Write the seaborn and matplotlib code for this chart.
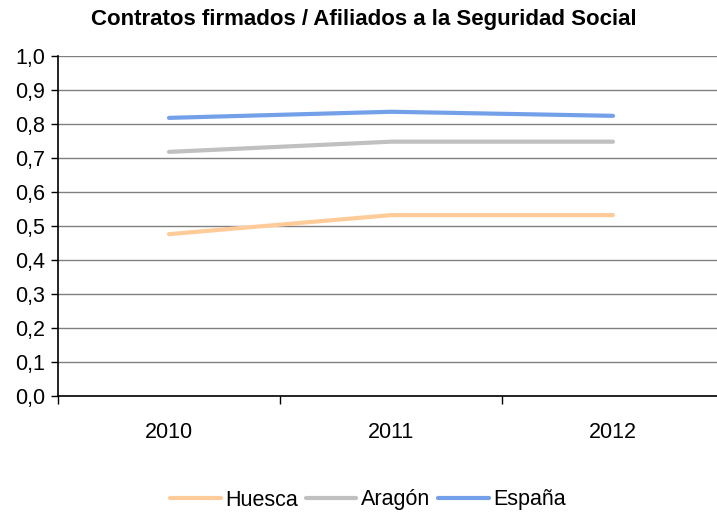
import pandas as pd
import matplotlib.pyplot as plt
import seaborn as sns
from matplotlib.ticker import FixedLocator, FuncFormatter

years = ['2010', '2011', '2012']
huesca = [0.476, 0.532, 0.532]
aragon = [0.718, 0.748, 0.748]
espana = [0.818, 0.836, 0.824]
series = ['Huesca', 'Aragón', 'España']
colors = ['#FFCC99', '#C0C0C0', '#73A0E8']

df = pd.DataFrame({
    'year': years * 3,
    'x': [0, 1, 2] * 3,
    'valor': huesca + aragon + espana,
    'serie': [s for s in series for _ in years],
})

sns.set_style('white')
plt.rcParams['font.family'] = ['Liberation Sans', 'DejaVu Sans']
plt.rcParams['text.color'] = 'black'
plt.rcParams['xtick.color'] = 'black'
plt.rcParams['ytick.color'] = 'black'

fig = plt.figure(figsize=(7.17, 5.12), dpi=100)
ax = fig.add_axes([58 / 717, 116 / 512, 666 / 717, 340 / 512])

sns.lineplot(data=df, x='x', y='valor', hue='serie', palette=colors,
             linewidth=3, ax=ax, legend=True)

ax.set_xlim(-0.5, 2.5)
ax.set_ylim(0, 1.0)
ax.set_yticks([i / 10 for i in range(11)])
ax.yaxis.set_major_formatter(FuncFormatter(lambda v, p: f'{v:.1f}'.replace('.', ',')))
ax.yaxis.grid(True, color='#808080', linewidth=1)
ax.set_axisbelow(True)

# ticks between categories, labels centred on categories
ax.xaxis.set_major_locator(FixedLocator([-0.5, 0.5, 1.5, 2.5]))
ax.xaxis.set_major_formatter(FuncFormatter(lambda v, p: ''))
ax.set_xticks([0, 1, 2], minor=True)
ax.set_xticklabels(years, minor=True)
ax.tick_params(axis='x', which='minor', length=0, pad=19, labelsize=15.5, labelcolor='black')
ax.tick_params(axis='x', which='major', length=6, direction='out', width=1, color='black')
ax.tick_params(axis='y', length=5, direction='out', width=1, color='black', labelsize=15.5,
               labelcolor='black', pad=4)
ax.tick_params(bottom=True, left=True)
ax.set_xlabel('')
ax.set_ylabel('')

for s in ['top', 'right']:
    ax.spines[s].set_visible(False)
for s in ['left', 'bottom']:
    ax.spines[s].set_color('black')
    ax.spines[s].set_linewidth(1.2)

ax.legend(loc='center', bbox_to_anchor=(368 / 717, 1 - 500 / 512), bbox_transform=fig.transFigure,
          ncol=3, frameon=False, fontsize=15.5, handlelength=2.35, columnspacing=0.36,
          handletextpad=0.22, borderpad=0.1)

fig.text(364 / 717, 1 - 19 / 512, 'Contratos firmados / Afiliados a la Seguridad Social',
         ha='center', va='center', fontsize=16, fontweight='bold')

fig.savefig('out.png', dpi=100)
